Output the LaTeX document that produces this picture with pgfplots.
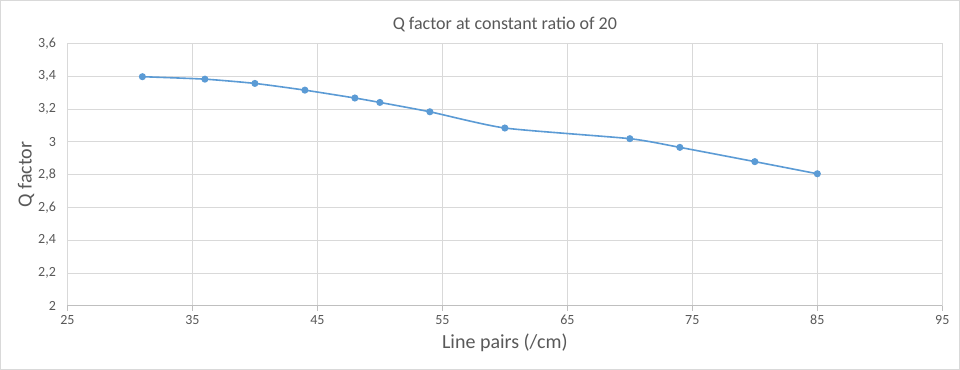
\documentclass[border=0pt]{standalone}
\usepackage{pgfplots}
\pgfplotsset{compat=1.18}
\usepackage{fontspec}
\setmainfont{Carlito}
\definecolor{lineblue}{HTML}{5B9BD5}
\definecolor{gridgray}{HTML}{D9D9D9}
\definecolor{axisgray}{HTML}{BFBFBF}
\definecolor{textgray}{HTML}{595959}
\begin{document}
\begin{tikzpicture}
\draw[gridgray, line width=0.8pt, fill=white] (-67pt,-63.7pt) rectangle (892pt,305.3pt);
\begin{axis}[
  at={(0,0)}, anchor=south west,
  scale only axis,
  width=874.7pt, height=262.3pt,
  xmin=25, xmax=95, ymin=2, ymax=3.6,
  xtick={25,35,...,95},
  ytick={2,2.2,...,3.6},
  /pgf/number format/assume math mode=true,
  /pgf/number format/use comma,
  /pgf/number format/fixed,
  grid=major,
  major grid style={gridgray, line width=0.8pt},
  axis x line*=bottom,
  axis y line*=left,
  y axis line style={draw=none},
  x axis line style={axisgray, line width=0.8pt, -},
  xtick style={axisgray, line width=0.8pt},
  xtick align=outside,
  major tick length=5pt,
  ytick style={draw=none},
  ticklabel style={font=\fontsize{14}{16}\selectfont, text=textgray},
  xticklabel style={yshift=-1pt},
  yticklabel style={xshift=-8pt},
  xlabel={Line pairs (/cm)},
  ylabel={Q factor},
  label style={font=\fontsize{20}{24}\selectfont, text=textgray},
  xlabel style={yshift=-2pt},
  ylabel style={yshift=-3pt},
  title={Q factor at constant ratio of 20},
  title style={font=\fontsize{18}{21}\selectfont, text=textgray, yshift=2pt},
]
\addplot[lineblue, line width=1.6pt, smooth, tension=0.35, mark=*, mark size=2.7pt, mark options={fill=lineblue, draw=lineblue}]
coordinates {
(31,3.397) (36,3.382) (40,3.356) (44,3.315) (48,3.267) (50,3.240)
(54,3.183) (60,3.084) (70,3.019) (74,2.966) (80,2.879) (85,2.805)
};
\end{axis}
\end{tikzpicture}
\end{document}
